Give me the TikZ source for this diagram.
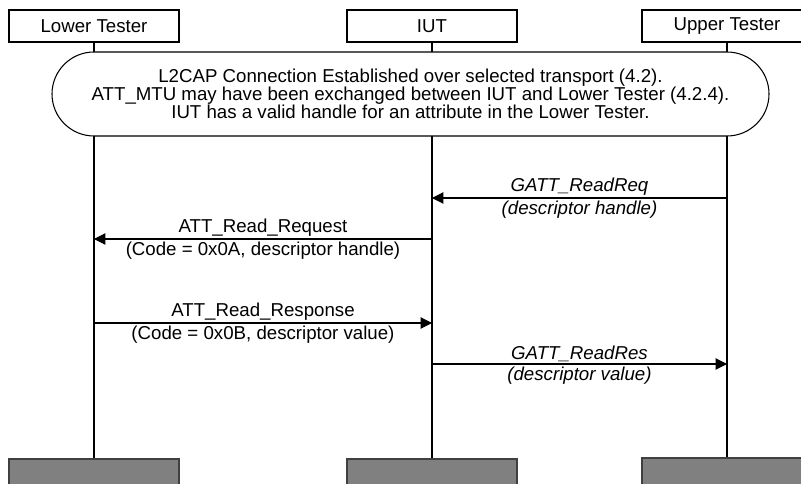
\documentclass[tikz,border=0pt]{standalone}
\usepackage{fontspec}
\setmainfont{Liberation Sans}
\usetikzlibrary{arrows.meta}

\begin{document}
\begin{tikzpicture}[
    x=0.75pt, y=-0.75pt,
    font=\fontsize{14}{13.5}\selectfont,
    actor/.style={
        rectangle, draw, line width=0.8pt,
        minimum width=127.5pt, minimum height=24pt, inner sep=0pt
    },
    actorEnd/.style={actor, draw=black!75, fill=black!50},
    lifeline/.style={line width=1.5pt},
    pill/.style={
        rectangle, draw, fill=white, line width=0.8pt,
        rounded corners=31.5pt, minimum width=537.75pt, minimum height=63pt,
        inner sep=0pt, align=center
    },
    msg/.style={line width=0.8pt, -{Triangle[length=8.5pt, width=8.5pt]}},
    lblUp/.style={above, inner sep=1.2pt},
    lblDown/.style={below, inner sep=2.2pt},
    gatt/.style={font=\fontsize{14}{13.5}\selectfont\itshape}
]
    \useasboundingbox (0,0) rectangle (801,484);

    % --- actors ---
    \node[actor] (lower) at (94,26) {Lower Tester};
    \node[actor] (iut) at (432,26) {IUT};
    \node[actor] (upper) at (727,26) {Upper Tester};

    \node[actorEnd] (lowerEnd) at (94,475) {};
    \node[actorEnd] (iutEnd) at (432,475) {};
    \node[actorEnd] (upperEnd) at (727,474) {};

    % --- lifelines ---
    \draw[lifeline] (lower.south) -- (lowerEnd.north);
    \draw[lifeline] (iut.south) -- (iutEnd.north);
    \draw[lifeline] (upper.south) -- (upperEnd.north);

    % --- preamble ---
    \node[pill] (setup) at (410.5,94) {
        L2CAP Connection Established over selected transport (4.2).\\
        ATT\_MTU may have been exchanged between IUT and Lower Tester (4.2.4).\\
        IUT has a valid handle for an attribute in the Lower Tester.
    };

    % --- messages ---
    \coordinate (m1) at (0,198);
    \coordinate (m2) at (0,239);
    \coordinate (m3) at (0,323);
    \coordinate (m4) at (0,364);

    \draw[msg] (upper |- m1) -- node[lblUp, gatt] {GATT\_ReadReq}
        node[lblDown, gatt] {(descriptor handle)} (iut |- m1);
    \draw[msg] (iut |- m2) -- node[lblUp] {ATT\_Read\_Request}
        node[lblDown] {(Code = 0x0A, descriptor handle)} (lower |- m2);
    \draw[msg] (lower |- m3) -- node[lblUp] {ATT\_Read\_Response}
        node[lblDown] {(Code = 0x0B, descriptor value)} (iut |- m3);
    \draw[msg] (iut |- m4) -- node[lblUp, gatt] {GATT\_ReadRes}
        node[lblDown, gatt] {(descriptor value)} (upper |- m4);
\end{tikzpicture}
\end{document}
